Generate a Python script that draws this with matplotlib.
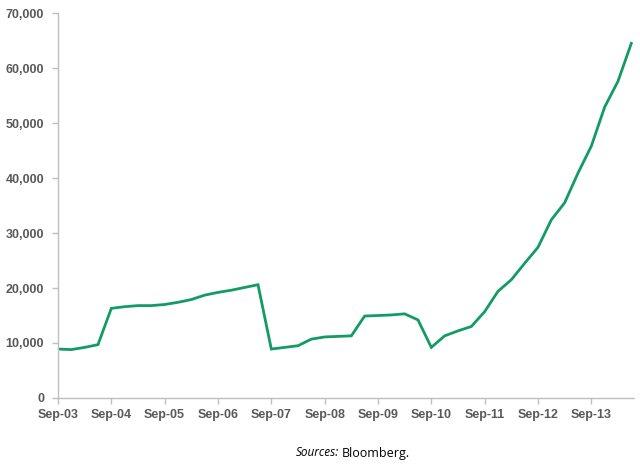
import numpy as np
import matplotlib.pyplot as plt

## quarterly values, Sep-03 to Jun-14
values = [8900, 8800, 9200, 9700,
          16300, 16600, 16800, 16800,
          17000, 17400, 17900, 18700,
          19200, 19600, 20100, 20600,
          8900, 9200, 9500, 10700,
          11100, 11200, 11300, 14900,
          15000, 15100, 15300, 14200,
          9200, 11300, 12200, 13000,
          15700, 19400, 21500, 24500,
          27400, 32400, 35500, 40900,
          45800, 52900, 57600, 64500]
year_labels = ['Sep-03', 'Sep-04', 'Sep-05', 'Sep-06', 'Sep-07', 'Sep-08',
               'Sep-09', 'Sep-10', 'Sep-11', 'Sep-12', 'Sep-13']
y_ticks = [0, 10000, 20000, 30000, 40000, 50000, 60000, 70000]

grey = '#595959'
axis_grey = '#bfbfbf'
green = '#139b65'

fig = plt.figure(figsize=(6.4, 4.67), dpi=100)
ax = fig.add_axes([0.0906, 0.1478, 0.9, 0.8242])

x = np.arange(len(values))
ax.plot(x, values, color=green, linewidth=2.0, solid_joinstyle='miter')

ax.set_xlim(0, 43.2)
ax.set_ylim(0, 70000)

ax.set_yticks(y_ticks)
ax.set_yticklabels(['{:,}'.format(v) for v in y_ticks])
ax.set_xticks(np.arange(0, len(year_labels) * 4, 4))
ax.set_xticklabels(year_labels)

for side in ['top', 'right']:
    ax.spines[side].set_visible(False)
for side in ['left', 'bottom']:
    ax.spines[side].set_color(axis_grey)
    ax.spines[side].set_linewidth(1.0)

ax.tick_params(axis='both', colors=axis_grey, length=4, width=1.0,
               direction='out')
for lab in ax.get_xticklabels() + ax.get_yticklabels():
    lab.set_color(grey)
    lab.set_fontfamily('Liberation Sans')
    lab.set_fontweight('bold')
    lab.set_fontsize(9)
ax.tick_params(axis='y', pad=6)
ax.tick_params(axis='x', pad=4)

fig.text(339 / 640, 1 - 453 / 467, 'Sources:', ha='right', va='center',
         fontsize=8.5, style='italic', family='Open Sans', color='black')
fig.text(342 / 640, 1 - 453 / 467, 'Bloomberg.', ha='left', va='center',
         fontsize=9, family='Open Sans', color='black')

fig.savefig('out.png', dpi=100)
